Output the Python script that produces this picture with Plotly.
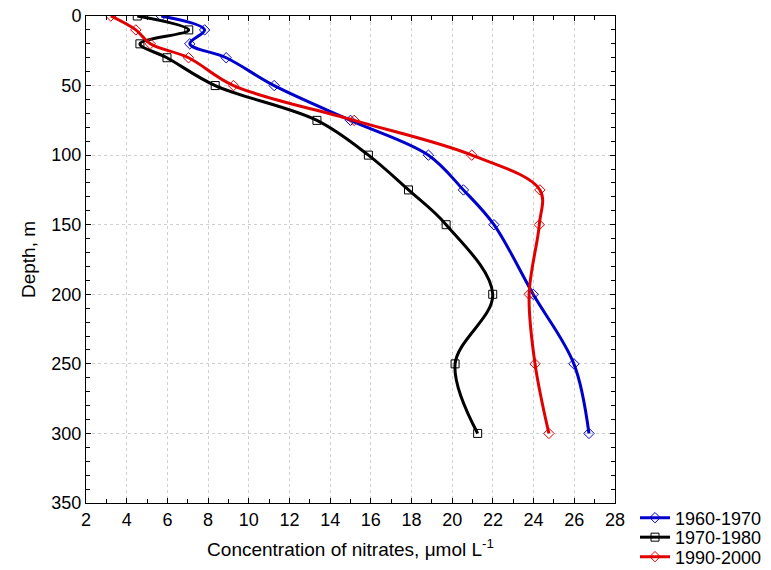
import plotly.graph_objects as go

depth = [0, 10, 20, 30, 50, 75, 100, 125, 150, 200, 250, 300]
n_1960_1970 = [5.7, 7.83, 7.1, 8.89, 11.25, 15.0, 18.83, 20.55, 22.05, 23.98, 25.98, 26.72]
n_1970_1980 = [4.52, 7.05, 4.65, 5.98, 8.35, 13.35, 15.88, 17.85, 19.7, 21.99, 20.14, 21.25]
n_1990_2000 = [3.22, 4.45, 5.16, 7.04, 9.25, 15.18, 20.96, 24.31, 24.28, 23.78, 24.07, 24.75]

series = [
    ("1960-1970", n_1960_1970, "#0000cc", "diamond-open"),
    ("1970-1980", n_1970_1980, "#000000", "square-open"),
    ("1990-2000", n_1990_2000, "#e00000", "diamond-open"),
]

font = "Liberation Sans, Arial, sans-serif"
legend_names = ["legend", "legend2", "legend3"]
legend_py = [518, 537.5, 557]  # pixel centres of legend rows

fig = go.Figure()
for (name, vals, color, sym), lg in zip(series, legend_names):
    fig.add_trace(go.Scatter(
        x=vals, y=depth, name=name, mode="lines+markers", legend=lg,
        line=dict(color=color, width=3, shape="spline", smoothing=1),
        marker=dict(symbol=sym, size=8, color=color, line=dict(width=1, color=color)),
    ))

axis_common = dict(
    showline=True, linecolor="black", linewidth=1, mirror="allticks",
    ticks="inside", ticklen=5, tickcolor="black",
    showgrid=True, gridcolor="#cfcfcf", griddash="dot", gridwidth=1,
    zeroline=False, automargin=False,
    tickfont=dict(family=font, size=18, color="black"),
)

plot_top, plot_bottom, plot_left, plot_right = 15.5, 503, 86, 615
legends = {}
for lg, py in zip(legend_names, legend_py):
    legends[lg] = dict(
        x=(635 - plot_left) / (plot_right - plot_left),
        y=(plot_bottom - py) / (plot_bottom - plot_top),
        xanchor="left", yanchor="middle",
        font=dict(family=font, size=18, color="black"),
        bgcolor="rgba(0,0,0,0)", borderwidth=0,
    )

fig.update_layout(
    width=771, height=570,
    margin=dict(l=plot_left, r=771 - plot_right, t=plot_top, b=570 - plot_bottom, autoexpand=False),
    paper_bgcolor="white", plot_bgcolor="white",
    font=dict(family=font, size=18, color="black"),
    showlegend=True,
    xaxis=dict(range=[2, 28], dtick=2, tick0=2,
               minor=dict(dtick=1, ticks="inside", ticklen=4, tickcolor="black", showgrid=False),
               title=dict(text="Concentration of nitrates, μmol L<sup>-1</sup>",
                          font=dict(family=font, size=19), standoff=14),
               **axis_common),
    yaxis=dict(range=[350, 0], dtick=50, tick0=0,
               minor=dict(dtick=10, ticks="inside", ticklen=4, tickcolor="black", showgrid=False),
               title=dict(text="Depth, m", font=dict(family=font, size=19), standoff=10),
               **axis_common),
    **legends,
)

fig.write_html("out.html", config={"displayModeBar": False},
               post_script="document.body.style.margin='0px';")
